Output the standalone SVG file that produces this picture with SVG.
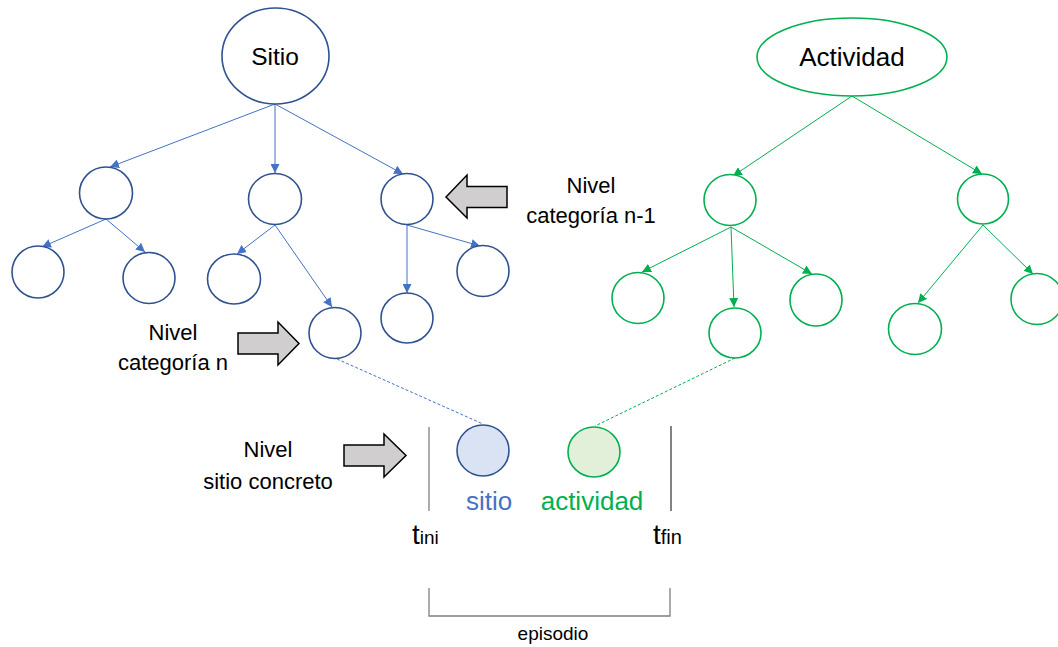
<svg xmlns="http://www.w3.org/2000/svg" width="1058" height="647" viewBox="0 0 1058 647">
<style>
.bn{fill:#fff;stroke:#2F528F;stroke-width:1.6}
.gn{fill:#fff;stroke:#00B050;stroke-width:1.6}
.be{stroke:#4472C4;stroke-width:1;fill:none}
.ge{stroke:#00B050;stroke-width:1;fill:none}
.dash{stroke-dasharray:3 2}
.lbl{font-family:"Liberation Sans",Arial,sans-serif;fill:#000}
.garrow{fill:#D0CECE;stroke:#000;stroke-width:1.5;stroke-linejoin:miter}
</style>
<defs>
<marker id="ab" viewBox="0 0 10 10" refX="10" refY="5" markerWidth="9" markerHeight="9" markerUnits="userSpaceOnUse" orient="auto"><path d="M0,0L10,5L0,10z" fill="#4472C4"/></marker>
<marker id="ag" viewBox="0 0 10 10" refX="10" refY="5" markerWidth="9" markerHeight="9" markerUnits="userSpaceOnUse" orient="auto"><path d="M0,0L10,5L0,10z" fill="#00B050"/></marker>
</defs>
<g id="connectors">
<line class="be" x1="275" y1="104" x2="110" y2="167" marker-end="url(#ab)"/>
<line class="be" x1="275" y1="104" x2="275" y2="173" marker-end="url(#ab)"/>
<line class="be" x1="275" y1="104" x2="403" y2="174" marker-end="url(#ab)"/>
<line class="be" x1="106" y1="219" x2="42" y2="247" marker-end="url(#ab)"/>
<line class="be" x1="106" y1="219" x2="145" y2="252" marker-end="url(#ab)"/>
<line class="be" x1="275" y1="225" x2="237" y2="254" marker-end="url(#ab)"/>
<line class="be" x1="275" y1="225" x2="332" y2="307" marker-end="url(#ab)"/>
<line class="be" x1="407" y1="225" x2="407" y2="293" marker-end="url(#ab)"/>
<line class="be" x1="407" y1="225" x2="480" y2="246" marker-end="url(#ab)"/>
<line class="ge" x1="852" y1="96" x2="733" y2="176" marker-end="url(#ag)"/>
<line class="ge" x1="852" y1="96" x2="982" y2="174" marker-end="url(#ag)"/>
<line class="ge" x1="731" y1="227" x2="642" y2="272" marker-end="url(#ag)"/>
<line class="ge" x1="731" y1="227" x2="734" y2="307" marker-end="url(#ag)"/>
<line class="ge" x1="731" y1="227" x2="812" y2="274" marker-end="url(#ag)"/>
<line class="ge" x1="983" y1="225" x2="918" y2="303" marker-end="url(#ag)"/>
<line class="ge" x1="983" y1="225" x2="1033" y2="274" marker-end="url(#ag)"/>
<line class="be dash" x1="337" y1="359" x2="483" y2="424"/>
<line class="ge dash" x1="735" y1="358" x2="595" y2="426"/>
</g>
<g id="sitio-root"><ellipse class="bn" cx="275.5" cy="56" rx="53.5" ry="48"/><text class="lbl" x="275" y="65" font-size="24.5" text-anchor="middle">Sitio</text></g>
<g id="actividad-root"><ellipse class="gn" cx="852" cy="57" rx="95" ry="39"/><text class="lbl" x="852" y="66" font-size="26" text-anchor="middle">Actividad</text></g>
<g id="s1"><ellipse class="bn" cx="106" cy="193" rx="26.5" ry="26"/></g>
<g id="s2"><ellipse class="bn" cx="275" cy="199" rx="26.5" ry="25.5"/></g>
<g id="s3"><ellipse class="bn" cx="407" cy="199" rx="26" ry="25.5"/></g>
<g id="s1a"><ellipse class="bn" cx="38" cy="272" rx="26" ry="26"/></g>
<g id="s1b"><ellipse class="bn" cx="149" cy="278" rx="26" ry="25.5"/></g>
<g id="s2a"><ellipse class="bn" cx="234" cy="279" rx="26.5" ry="25"/></g>
<g id="s2b"><ellipse class="bn" cx="335" cy="333" rx="26" ry="25.5"/></g>
<g id="s3a"><ellipse class="bn" cx="407" cy="318" rx="26" ry="25"/></g>
<g id="s3b"><ellipse class="bn" cx="483" cy="271" rx="26" ry="25.5"/></g>
<g id="a1"><ellipse class="gn" cx="730" cy="200" rx="26" ry="25.5"/></g>
<g id="a2"><ellipse class="gn" cx="983" cy="199" rx="25.5" ry="25"/></g>
<g id="a1a"><ellipse class="gn" cx="638" cy="298" rx="26" ry="25.5"/></g>
<g id="a1b"><ellipse class="gn" cx="735" cy="333" rx="26" ry="25"/></g>
<g id="a1c"><ellipse class="gn" cx="816" cy="300" rx="26" ry="26"/></g>
<g id="a2a"><ellipse class="gn" cx="915" cy="329" rx="26.5" ry="25.5"/></g>
<g id="a2b"><ellipse class="gn" cx="1037" cy="299" rx="26" ry="25.5"/></g>
<g id="sitio-concreto"><ellipse cx="483" cy="450.5" rx="26" ry="25.5" fill="#DAE3F3" stroke="#2F528F" stroke-width="1.6"/><text x="489" y="510" font-family="'Liberation Sans',Arial,sans-serif" font-size="26" fill="#4472C4" text-anchor="middle">sitio</text></g>
<g id="actividad-concreta"><ellipse cx="594" cy="452" rx="26" ry="25" fill="#E2F0D9" stroke="#00B050" stroke-width="1.6"/><text x="592" y="510" font-family="'Liberation Sans',Arial,sans-serif" font-size="26" fill="#00B050" text-anchor="middle">actividad</text></g>
<g id="arrow-n1"><polygon class="garrow" points="446,197 467,175 467,186.5 507,186.5 507,207.5 467,207.5 467,218"/><text class="lbl" font-size="22" text-anchor="middle"><tspan x="591" y="193">Nivel</tspan><tspan x="591" y="223">categoría n-1</tspan></text></g>
<g id="arrow-n"><polygon class="garrow" points="238,333 278,333 278,322 299,343.5 278,365 278,354 238,354"/><text class="lbl" font-size="22" text-anchor="middle"><tspan x="173" y="340">Nivel</tspan><tspan x="173" y="370">categoría n</tspan></text></g>
<g id="arrow-concreto"><polygon class="garrow" points="344,445 384,445 384,434 406,455.5 384,477 384,466 344,466"/><text class="lbl" font-size="22" text-anchor="middle"><tspan x="268" y="457">Nivel</tspan><tspan x="268" y="489">sitio concreto</tspan></text></g>
<g id="timeline">
<line x1="429" y1="427" x2="429" y2="511" stroke="#7F7F7F" stroke-width="1.3"/>
<line x1="671" y1="426" x2="671" y2="511" stroke="#404040" stroke-width="1.3"/>
<text class="lbl" x="412" y="544"><tspan font-size="28">t</tspan><tspan font-size="19">ini</tspan></text>
<text class="lbl" x="653" y="544"><tspan font-size="28">t</tspan><tspan font-size="20">fin</tspan></text>
<polyline points="429,588 429,616 670,616 670,588" fill="none" stroke="#7F7F7F" stroke-width="1.3"/>
<text class="lbl" x="553" y="640" font-size="19" text-anchor="middle">episodio</text>
</g>
</svg>
